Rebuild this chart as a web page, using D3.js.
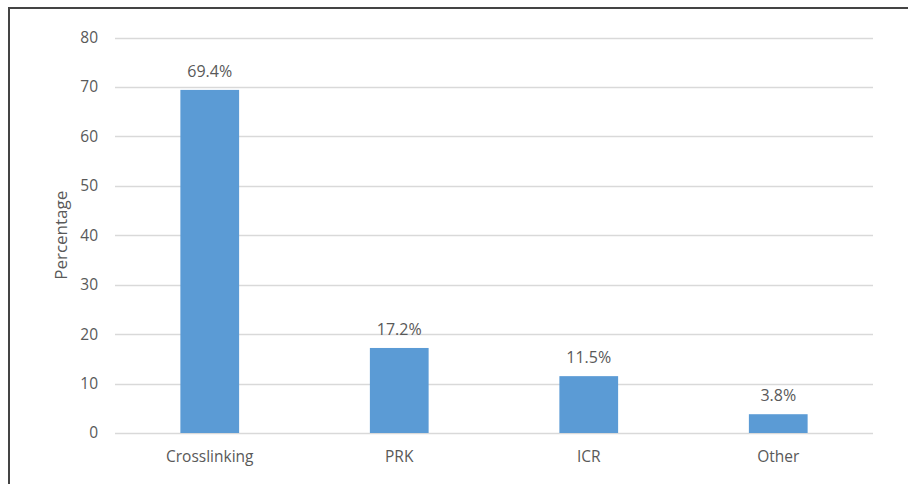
<!DOCTYPE html>
<html>
<head>
<meta charset="utf-8">
<script src="https://cdn.jsdelivr.net/npm/d3@7"></script>
<style>
  body { margin: 0; background: #fff; }
  svg text { font-family: "Open Sans", "Noto Sans", sans-serif; fill: #595959; }
</style>
</head>
<body>
<div class="chart"></div>
<script>
var categories = ["Crosslinking", "PRK", "ICR", "Other"];
var values = [69.4, 17.2, 11.5, 3.8];
var labels = ["69.4%", "17.2%", "11.5%", "3.8%"];
var yTicks = [0, 10, 20, 30, 40, 50, 60, 70, 80];

(function () {
    var W = 908, H = 484;
    var margin = { left: 115, right: 873, top: 37.5, bottom: 433 };

    var svg = d3.select(".chart").append("svg")
        .attr("width", W)
        .attr("height", H);

    // frame (only top and left edges visible)
    svg.append("path")
        .attr("d", "M9,484 V8 H908")
        .attr("fill", "none")
        .attr("stroke", "#444")
        .attr("stroke-width", 2);

    var x = d3.scaleBand()
        .domain(categories)
        .range([margin.left, margin.right]);

    var y = d3.scaleLinear()
        .domain([0, 80])
        .range([margin.bottom, margin.top]);

    var barW = x.bandwidth() * 0.31;

    // gridlines
    svg.append("g")
        .selectAll("line")
        .data(yTicks)
        .enter().append("line")
        .attr("x1", margin.left)
        .attr("x2", margin.right)
        .attr("y1", function (d) { return Math.round(y(d)) + 0.5; })
        .attr("y2", function (d) { return Math.round(y(d)) + 0.5; })
        .attr("stroke", "#d9d9d9")
        .attr("stroke-width", 1.3);

    // y tick labels
    svg.append("g")
        .selectAll("text")
        .data(yTicks)
        .enter().append("text")
        .attr("x", 98)
        .attr("y", function (d) { return y(d); })
        .attr("dy", "0.35em")
        .attr("text-anchor", "end")
        .style("font-size", "15.5px")
        .text(function (d) { return d; });

    // bars
    svg.append("g")
        .selectAll("rect")
        .data(values)
        .enter().append("rect")
        .attr("x", function (d, i) { return x(categories[i]) + x.bandwidth() / 2 - barW / 2; })
        .attr("y", function (d) { return y(d); })
        .attr("width", barW)
        .attr("height", function (d) { return y(0) - y(d); })
        .attr("fill", "#5b9bd5");

    // value labels
    svg.append("g")
        .selectAll("text")
        .data(values)
        .enter().append("text")
        .attr("x", function (d, i) { return x(categories[i]) + x.bandwidth() / 2; })
        .attr("y", function (d) { return y(d) - 13; })
        .attr("text-anchor", "middle")
        .style("font-size", "16px")
        .text(function (d, i) { return labels[i]; });

    // category labels
    svg.append("g")
        .selectAll("text")
        .data(categories)
        .enter().append("text")
        .attr("x", function (d) { return x(d) + x.bandwidth() / 2; })
        .attr("y", 462)
        .attr("text-anchor", "middle")
        .style("font-size", "15.5px")
        .text(function (d) { return d; });

    // y axis title
    svg.append("text")
        .attr("transform", "translate(67," + ((margin.top + margin.bottom) / 2) + ") rotate(-90)")
        .attr("text-anchor", "middle")
        .style("font-size", "17px")
        .text("Percentage");
})();
</script>
</body>
</html>
